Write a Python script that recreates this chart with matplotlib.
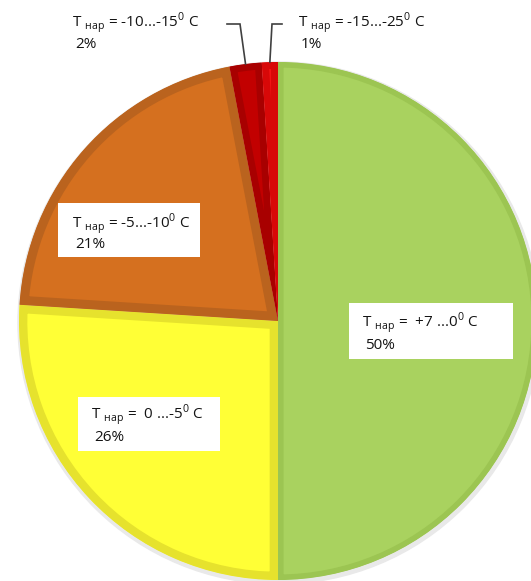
import matplotlib.pyplot as plt
from matplotlib.patches import Rectangle, Circle
import numpy as np

plt.rcParams['font.family'] = ['Open Sans', 'DejaVu Sans']

# temperature ranges (deg C) and share of hours, %
ranges = ['+7 ...0', '0 ...-5', '-5...-10', '-10...-15', '-15...-25']
shares = [50, 26, 21, 2, 1]

colors = ['#A9D25F', '#FFFF36', '#D5701F', '#C20000', '#F21414']
bevels = ['#9CC552', '#E6E22D', '#BA631E', '#A80000', '#D80808']
bevel_lw = [8, 12, 13, 10, 10]

W, H = 531, 581
fig = plt.figure(figsize=(W / 100, H / 100), dpi=100)
ax = fig.add_axes([0, 0, 1, 1])

cx, cy, r = 278, H - 321, 259

# soft shadow under the pie
ax.add_patch(Circle((cx + 1, cy - 2), r + 2, color='#e9e9e9', zorder=0))

wedges, _ = ax.pie(shares, colors=colors, startangle=90, counterclock=False,
                   radius=r, center=(cx, cy), frame=True)
for w, b, lw in zip(wedges, bevels, bevel_lw):
    # inner bevel: stroke clipped by the wedge itself
    w.set_edgecolor(b)
    w.set_linewidth(lw)
    w.set_joinstyle('round')
    w.set_clip_on(True)
    w.set_clip_path(w)

ax.set_xlim(0, W)
ax.set_ylim(0, H)
ax.set_aspect('equal')
ax.axis('off')


def label(rng, pct, x, y, dy=21, pad2=''):
    ax.text(x, H - y, 'T $_{\\mathregular{нар}}$ =' + pad2 + ' ' + rng + '$^{\\mathregular{0}}$ C',
            fontsize=11, color='#141414', ha='left', va='baseline', zorder=5)
    ax.text(x + 3, H - y - dy, f'{pct}%', fontsize=11, color='#141414',
            ha='left', va='baseline', zorder=5)


# white boxes inside slices (left, top, right, bottom in pixels)
boxes = {0: (349, 303, 513, 359), 1: (78, 397, 220, 451), 2: (58, 203, 200, 257)}
for i, (x0, y0, x1, y1) in boxes.items():
    ax.add_patch(Rectangle((x0, H - y1), x1 - x0, y1 - y0, facecolor='white',
                           edgecolor='none', zorder=4))

label(ranges[0], shares[0], 362, 327, dy=22, pad2=' ')
label(ranges[1], shares[1], 91, 419, dy=22, pad2=' ')
label(ranges[2], shares[2], 72, 228, dy=20)
label(ranges[3], shares[3], 72, 27, dy=21)
label(ranges[4], shares[4], 298, 27, dy=21)

# leader lines for the two small slices
cum = np.cumsum([0] + shares[:-1])
elbows = {3: (240, 227), 4: (272, 282)}
for i, (ex, hx) in elbows.items():
    frac = (cum[i] + shares[i] / 2) / sum(shares)
    th = np.deg2rad(90 - 360 * frac)
    px, py = cx + r * np.cos(th), cy + r * np.sin(th)
    ax.plot([px, ex, hx], [py, H - 24, H - 24], color='#404040', lw=1.2,
            zorder=3, solid_joinstyle='miter')

fig.savefig('out.png', dpi=100)
